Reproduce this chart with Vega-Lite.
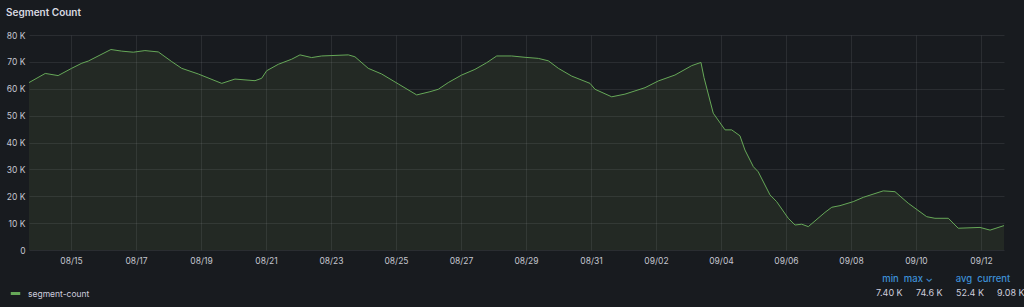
{
  "$schema": "https://vega.github.io/schema/vega-lite/v6.json",
  "width": 975,
  "height": 215,
  "autosize": {"type": "none"},
  "padding": {"left": 29, "top": 35, "right": 20, "bottom": 57},
  "background": "#181b1f",
  "title": {"text": "Segment Count", "anchor": "start", "frame": "group", "dx": -23, "offset": 13, "fontSize": 10, "fontWeight": 600, "color": "#d8d9e0", "font": "Inter"},
  "config": {
    "view": {"stroke": null},
    "font": "Inter",
    "axis": {"domain": false, "ticks": false, "grid": true, "gridColor": "#ccccdc", "gridOpacity": 0.1, "gridWidth": 1, "labelColor": "#c4c6cf", "labelFont": "Inter", "labelFontSize": 8.5, "labelOverlap": false, "title": null}
  },
  "layer": [
    {
      "data": {"name": "series"},
      "mark": {"type": "area", "fill": "#8caa5a", "fillOpacity": 0.1, "interpolate": "linear"},
      "encoding": {
        "x": {"field": "t", "type": "temporal", "scale": {"type": "utc", "domain": [{"year": 2023, "month": "aug", "date": 13, "hours": 17, "utc": true}, {"year": 2023, "month": "sep", "date": 12, "hours": 17, "utc": true}]},
          "axis": {"format": "%m/%d", "labelPadding": 6, "values": [
            {"year": 2023, "month": "aug", "date": 15, "utc": true},
            {"year": 2023, "month": "aug", "date": 17, "utc": true},
            {"year": 2023, "month": "aug", "date": 19, "utc": true},
            {"year": 2023, "month": "aug", "date": 21, "utc": true},
            {"year": 2023, "month": "aug", "date": 23, "utc": true},
            {"year": 2023, "month": "aug", "date": 25, "utc": true},
            {"year": 2023, "month": "aug", "date": 27, "utc": true},
            {"year": 2023, "month": "aug", "date": 29, "utc": true},
            {"year": 2023, "month": "aug", "date": 31, "utc": true},
            {"year": 2023, "month": "sep", "date": 2, "utc": true},
            {"year": 2023, "month": "sep", "date": 4, "utc": true},
            {"year": 2023, "month": "sep", "date": 6, "utc": true},
            {"year": 2023, "month": "sep", "date": 8, "utc": true},
            {"year": 2023, "month": "sep", "date": 10, "utc": true},
            {"year": 2023, "month": "sep", "date": 12, "utc": true}
          ]}},
        "y": {"field": "v", "type": "quantitative", "scale": {"domain": [0, 80000], "nice": false},
          "axis": {"values": [0, 10000, 20000, 30000, 40000, 50000, 60000, 70000, 80000], "labelOverlap": false, "labelPadding": 4, "labelExpr": "datum.value == 0 ? '0' : (datum.value / 1000) + ' K'"}}
      }
    },
    {
      "data": {"name": "series"},
      "mark": {"type": "line", "strokeWidth": 1, "interpolate": "linear"},
      "encoding": {
        "x": {"field": "t", "type": "temporal"},
        "y": {"field": "v", "type": "quantitative",
          "axis": {"values": [0, 10000, 20000, 30000, 40000, 50000, 60000, 70000, 80000], "labelOverlap": false, "labelPadding": 4, "labelExpr": "datum.value == 0 ? '0' : (datum.value / 1000) + ' K'"}},
        "color": {"datum": "segment-count", "type": "nominal", "scale": {"range": ["#66a858"]},
          "legend": {"orient": "none", "legendX": -20, "legendY": 252, "title": null, "symbolType": "stroke", "symbolStrokeWidth": 3, "symbolSize": 90, "symbolStrokeColor": "#6fb862", "labelFontSize": 8.5, "labelColor": "#ccccdc", "labelFont": "Inter", "labelOffset": 6}}
      }
    },
    {
      "data": {"values": [
        {"stat": "min", "label": "7.40 K"},
        {"stat": "max", "label": "74.6 K"},
        {"stat": "avg", "label": "52.4 K"},
        {"stat": "current", "label": "9.08 K"}
      ]},
      "mark": {"type": "point", "opacity": 0},
      "encoding": {
        "shape": {"field": "label", "type": "nominal",
          "scale": {"domain": ["7.40 K", "74.6 K", "52.4 K", "9.08 K"], "range": ["circle", "circle", "circle", "circle"]},
          "legend": {"orient": "none", "direction": "horizontal", "legendX": 838, "legendY": 239,
            "title": "\u200b\u00a0\u00a0\u00a0\u00a0\u00a0\u00a0min\u00a0\u00a0max \u2304\u00a0\u00a0\u00a0\u00a0\u00a0\u00a0\u00a0\u00a0\u00a0avg\u00a0\u00a0current",
            "titleColor": "#3d8fd6", "titleFontSize": 9.5, "titleFontWeight": 500, "titleFont": "Inter", "titlePadding": 5,
            "symbolSize": 0, "symbolOpacity": 0, "symbolStrokeWidth": 0, "labelOffset": 0, "columnPadding": 4,
            "labelFontSize": 9, "labelColor": "#ccccdc", "labelFont": "Inter"}}
      }
    }
  ],
  "datasets": {
    "series": [
      {"t": "2023-08-13T17:00:00Z", "v": 62300},
      {"t": "2023-08-14T05:00:00Z", "v": 65700},
      {"t": "2023-08-14T14:30:00Z", "v": 64900},
      {"t": "2023-08-15T00:30:00Z", "v": 67600},
      {"t": "2023-08-15T08:00:00Z", "v": 69500},
      {"t": "2023-08-15T12:45:00Z", "v": 70300},
      {"t": "2023-08-16T05:30:00Z", "v": 74600},
      {"t": "2023-08-16T13:30:00Z", "v": 74000},
      {"t": "2023-08-16T22:00:00Z", "v": 73600},
      {"t": "2023-08-17T06:36:00Z", "v": 74200},
      {"t": "2023-08-17T16:30:00Z", "v": 73700},
      {"t": "2023-08-18T02:24:00Z", "v": 70100},
      {"t": "2023-08-18T09:45:00Z", "v": 67600},
      {"t": "2023-08-18T22:00:00Z", "v": 65500},
      {"t": "2023-08-19T15:20:00Z", "v": 62000},
      {"t": "2023-08-19T21:25:00Z", "v": 63000},
      {"t": "2023-08-20T01:06:00Z", "v": 63600},
      {"t": "2023-08-20T15:54:00Z", "v": 63000},
      {"t": "2023-08-20T20:50:00Z", "v": 63900},
      {"t": "2023-08-21T00:30:00Z", "v": 66700},
      {"t": "2023-08-21T09:06:00Z", "v": 69100},
      {"t": "2023-08-21T19:00:00Z", "v": 71000},
      {"t": "2023-08-22T01:06:00Z", "v": 72600},
      {"t": "2023-08-22T09:42:00Z", "v": 71600},
      {"t": "2023-08-22T17:06:00Z", "v": 72200},
      {"t": "2023-08-23T12:48:00Z", "v": 72600},
      {"t": "2023-08-23T17:42:00Z", "v": 71900},
      {"t": "2023-08-24T03:30:00Z", "v": 67600},
      {"t": "2023-08-24T13:24:00Z", "v": 65500},
      {"t": "2023-08-25T01:42:00Z", "v": 61800},
      {"t": "2023-08-25T15:18:00Z", "v": 57700},
      {"t": "2023-08-26T01:06:00Z", "v": 58900},
      {"t": "2023-08-26T07:12:00Z", "v": 59800},
      {"t": "2023-08-26T14:36:00Z", "v": 62300},
      {"t": "2023-08-27T00:30:00Z", "v": 65100},
      {"t": "2023-08-27T10:18:00Z", "v": 67200},
      {"t": "2023-08-27T19:00:00Z", "v": 69700},
      {"t": "2023-08-28T02:24:00Z", "v": 72200},
      {"t": "2023-08-28T13:24:00Z", "v": 72200},
      {"t": "2023-08-28T23:18:00Z", "v": 71700},
      {"t": "2023-08-29T09:06:00Z", "v": 71300},
      {"t": "2023-08-29T16:30:00Z", "v": 70400},
      {"t": "2023-08-29T23:54:00Z", "v": 67600},
      {"t": "2023-08-30T09:48:00Z", "v": 64700},
      {"t": "2023-08-30T23:18:00Z", "v": 62000},
      {"t": "2023-08-31T03:00:00Z", "v": 59800},
      {"t": "2023-08-31T15:18:00Z", "v": 57000},
      {"t": "2023-09-01T01:06:00Z", "v": 58000},
      {"t": "2023-09-01T15:54:00Z", "v": 60400},
      {"t": "2023-09-02T01:42:00Z", "v": 62900},
      {"t": "2023-09-02T14:00:00Z", "v": 65100},
      {"t": "2023-09-03T02:24:00Z", "v": 68600},
      {"t": "2023-09-03T09:12:00Z", "v": 69800},
      {"t": "2023-09-03T11:30:00Z", "v": 64100},
      {"t": "2023-09-03T18:18:00Z", "v": 50900},
      {"t": "2023-09-04T03:00:00Z", "v": 44700},
      {"t": "2023-09-04T07:54:00Z", "v": 44700},
      {"t": "2023-09-04T14:00:00Z", "v": 42500},
      {"t": "2023-09-04T17:42:00Z", "v": 37200},
      {"t": "2023-09-04T23:54:00Z", "v": 31000},
      {"t": "2023-09-05T03:30:00Z", "v": 29100},
      {"t": "2023-09-05T12:12:00Z", "v": 20500},
      {"t": "2023-09-05T17:06:00Z", "v": 18000},
      {"t": "2023-09-06T01:42:00Z", "v": 11800},
      {"t": "2023-09-06T06:42:00Z", "v": 9300},
      {"t": "2023-09-06T11:36:00Z", "v": 9600},
      {"t": "2023-09-06T16:30:00Z", "v": 8700},
      {"t": "2023-09-07T04:48:00Z", "v": 14000},
      {"t": "2023-09-07T09:48:00Z", "v": 15900},
      {"t": "2023-09-07T15:54:00Z", "v": 16500},
      {"t": "2023-09-08T01:42:00Z", "v": 18000},
      {"t": "2023-09-08T09:06:00Z", "v": 19600},
      {"t": "2023-09-08T23:48:00Z", "v": 22000},
      {"t": "2023-09-09T08:30:00Z", "v": 21700},
      {"t": "2023-09-09T18:18:00Z", "v": 17400},
      {"t": "2023-09-10T07:54:00Z", "v": 12400},
      {"t": "2023-09-10T14:00:00Z", "v": 11800},
      {"t": "2023-09-10T23:54:00Z", "v": 11800},
      {"t": "2023-09-11T07:12:00Z", "v": 8100},
      {"t": "2023-09-11T23:18:00Z", "v": 8400},
      {"t": "2023-09-12T06:42:00Z", "v": 7400},
      {"t": "2023-09-12T17:00:00Z", "v": 9080}
    ]
  }
}
